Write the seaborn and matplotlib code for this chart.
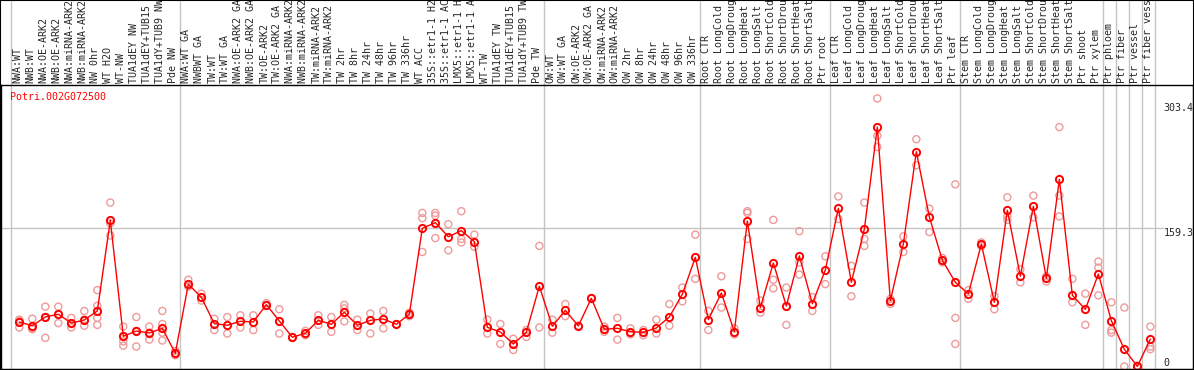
import numpy as np
import pandas as pd
import matplotlib
matplotlib.use("Agg")
import matplotlib.pyplot as plt
import matplotlib.transforms as mtransforms
import seaborn as sns

# sample names, in plot order
samples = [
    "NWA:WT", "NWB:WT", "NWA:OE-ARK2", "NWB:OE-ARK2", "NWA:miRNA-ARK2", "NWB:miRNA-ARK2",
    "NW 0hr", "WT H2O", "WT-NW", "TUA1dEY NW", "TUA1dEY+TUB15 NW", "TUA1dY+TUB9 NW", "Pde NW",
    "NWA:WT GA", "NWBWT GA", "TW:WT", "TW:WT GA", "NWA:OE-ARK2 GA", "NWB:OE-ARK2 GA",
    "TW:OE-ARK2", "TW:OE-ARK2 GA", "NWA:miRNA-ARK2 GA", "NWB:miRNA-ARK2 GA", "TW:miRNA-ARK2",
    "TW:miRNA-ARK2 GA", "TW 2hr", "TW 8hr", "TW 24hr", "TW 48hr", "TW 96hr", "TW 336hr",
    "WT ACC", "35S::etr1-1 H2O", "35S::etr1-1 ACC", "LMX5::etr1-1 H2O", "LMX5::etr1-1 ACC",
    "WT-TW", "TUA1dEY TW", "TUA1dEY+TUB15 TW", "TUA1dY+TUB9 TW", "Pde TW",
    "OW:WT", "OW:WT GA", "OW:OE-ARK2", "OW:OE-ARK2 GA", "OW:miRNA-ARK2", "OW:miRNA-ARK2 GA",
    "OW 2hr", "OW 8hr", "OW 24hr", "OW 48hr", "OW 96hr", "OW 336hr",
    "Root CTR", "Root LongCold", "Root LongDrought", "Root LongHeat", "Root LongSalt",
    "Root ShortCold", "Root ShortDrought", "Root ShortHeat", "Root ShortSalt", "Ptr root",
    "Leaf CTR", "Leaf LongCold", "Leaf LongDrought", "Leaf LongHeat", "Leaf LongSalt",
    "Leaf ShortCold", "Leaf ShortDrought", "Leaf ShortHeat", "Leaf ShortSalt", "Ptr leaf",
    "Stem CTR", "Stem LongCold", "Stem LongDrought", "Stem LongHeat", "Stem LongSalt",
    "Stem ShortCold", "Stem ShortDrought", "Stem ShortHeat", "Stem ShortSalt", "Ptr shoot",
    "Ptr xylem", "Ptr phloem", "Ptr fiber", "Ptr vessel", "Ptr fiber vessel",
]

means = [
    51.3, 47.0, 57.1, 60.2, 50.1, 53.6, 64.0, 168.5, 34.8, 40.9, 38.6, 44.0, 15.2,
    94.8, 79.8, 49.4, 47.5, 52.1, 51.3, 71.3, 52.5, 33.7, 38.3, 53.2, 48.6, 62.5, 47.5,
    53.2, 54.8, 48.6, 60.2, 159.3, 165.8, 149.6, 156.6, 143.9, 45.2, 39.8, 25.9, 39.4, 92.5,
    46.3, 64.8, 46.7, 78.6, 42.9, 44.0, 40.1, 39.4, 44.4, 57.1, 83.2, 125.9,
    54.0, 84.7, 40.1, 167.7, 67.8, 119.3, 69.7, 127.4, 72.4, 111.3,
    182.4, 97.1, 158.2, 276.1, 75.9, 141.2, 247.6, 172.4, 122.4, 97.1,
    83.6, 141.2, 74.0, 180.1, 104.0, 184.7, 101.7, 215.8, 82.1, 65.9,
    106.6, 52.8, 19.8, 0.0, 31.7,
]

replicates = [
    [54, 45, 53], [55, 43, 44], [69, 57, 33], [69, 60, 50], [56, 50, 45], [64, 54, 47],
    [88, 70, 64, 56, 48], [189, 165, 151], [46, 35, 24, 29], [57, 41, 23], [46, 39, 31],
    [64, 49, 39, 30], [18, 15, 13],
    [100, 92], [84, 76], [55, 42], [57, 38], [59, 45], [59, 42], [73, 70], [66, 38],
    [34, 33], [41, 36], [59, 48], [57, 40], [71, 67, 52], [54, 42], [61, 38], [64, 44],
    [49], [62, 58], [177, 171, 132], [177, 174, 148], [164, 134], [179, 147, 143],
    [152, 138], [54, 38], [49, 26], [32, 19], [42, 34], [139, 45],
    [54, 39], [72, 58], [47], [79], [46, 40], [56, 31], [44, 37], [42, 36], [54, 38],
    [72, 47], [91, 75], [152, 101],
    [64, 42], [104, 68], [44, 37], [179, 177, 147], [76, 62], [169, 100, 90], [91, 48],
    [156, 120, 106], [80, 64], [127, 95],
    [196, 170], [116, 81], [189, 147, 139], [309, 266, 253], [78, 72], [150, 132],
    [262, 232], [182, 155], [125, 120], [210, 56, 26],
    [88, 78], [143, 139], [81, 66], [195, 173, 169], [112, 97], [197, 172], [104, 98],
    [276, 197, 173], [101, 74], [84, 48],
    [121, 114, 82], [74, 42, 39], [68, 0], [1, 0], [46, 23, 20],
]

# group separators (after these sample indices)
separators = [-1, 12, 40, 52, 62, 72, 83, 84, 85, 86, 87]
axis_labels = [303.4, 159.3, 0]
gene = "Potri.002G072500"

df_mean = pd.DataFrame({"pos": np.arange(len(samples)), "value": means})
rows = [(i, v) for i, reps in enumerate(replicates) for v in reps]
df_rep = pd.DataFrame(rows, columns=["pos", "value"])

sns.set_style("white")
plt.rcParams["font.family"] = ["DejaVu Sans Mono"]

fig = plt.figure(figsize=(11.94, 3.70), dpi=100)
ax = fig.add_axes([1 / 1194, 1 / 370, 1192 / 1194, 284 / 370])
ax.set_xlim(-1.408, 90.28)
ax.set_ylim(-2.9, 324.5)

grey = "#C4C4C4"
for s in separators:
    ax.axvline(s + 0.385, ymin=0, ymax=1.31, color=grey, lw=1, clip_on=False, zorder=0)
ax.plot([-1.5, 88.0], [159.3, 159.3], color=grey, lw=1, zorder=0)

sns.scatterplot(data=df_rep, x="pos", y="value", ax=ax, marker="o", s=26,
                facecolor="none", edgecolor="#EE9A9A", linewidth=1, zorder=2, legend=False)
sns.lineplot(data=df_mean, x="pos", y="value", ax=ax, color="red", lw=1, sort=False,
             marker="o", markersize=5.2, markerfacecolor="none", markeredgecolor="red",
             markeredgewidth=1.4, zorder=3, legend=False)

ax.set_xticks([])
ax.set_yticks([])
ax.set_xlabel("")
ax.set_ylabel("")
for sp in ax.spines.values():
    sp.set_color("black")
    sp.set_linewidth(1)

# sample labels above the plot
trans = mtransforms.blended_transform_factory(ax.transData, ax.transAxes)
for i, name in enumerate(samples):
    ax.text(i - 0.15, 1 + 2 / 284, name, transform=trans, rotation=90, ha="center",
            va="bottom", fontsize=7.2, clip_on=False)

ax.text(9.3 / 1192, 1 - 12.5 / 284, gene, transform=ax.transAxes, color="red",
        fontsize=7.2, ha="left", va="center")

for v in axis_labels:
    ax.text(88.0, v, f"{v:g}" if v == 0 else f"{v}", fontsize=7.2, ha="left",
            va="baseline" if v == 0 else "top")

fig.add_artist(plt.Rectangle((0, 0), 1, 1, transform=fig.transFigure, fill=False,
                             ec="black", lw=1.5))

fig.savefig("out.png", dpi=100)
